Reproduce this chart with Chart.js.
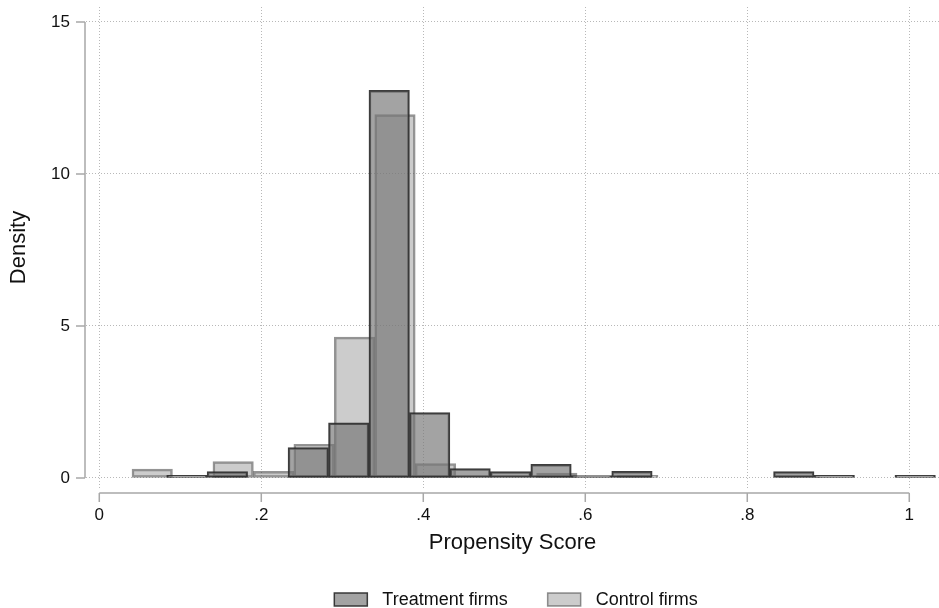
<!DOCTYPE html>
<html>
<head>
<meta charset="utf-8">
<script src="https://cdn.jsdelivr.net/npm/chart.js@4/dist/chart.umd.min.js"></script>
<style>
    html, body { margin: 0; padding: 0; background: #fff; }
    #wrap { width: 939px; height: 608px; }
</style>
</head>
<body>
<div id="wrap"><canvas id="psChart" width="939" height="608"></canvas></div>
<script>
// Histogram bins (Stata-style density histograms, equal bin width)
const binWidth = 0.04995;
const treatmentStart = 0.0832;
const controlStart = 0.0404;

// density per bin, null = empty bin
const treatmentDensity = [0.09, 0.21, null, 1.00, 1.81, 12.75, 2.15, 0.31, 0.21, 0.45, 0.08, 0.22, null, null, null, 0.21, 0.09, null, 0.09];
const controlDensity = [0.29, null, 0.54, 0.22, 1.11, 4.63, 11.95, 0.47, null, null, 0.16, null, 0.09, null, null, null, 0.04];

const seriesLabels = ['Treatment firms', 'Control firms'];

const xTicks = [0, 0.2, 0.4, 0.6, 0.8, 1];
const xTickLabels = ['0', '.2', '.4', '.6', '.8', '1'];
const yTicks = [0, 5, 10, 15];
const yTickLabels = ['0', '5', '10', '15'];

const FONT = "'Liberation Sans', Arial, sans-serif";

function toBins(start, values) {
    return values.map((v, i) => ({ x: start + (i + 0.5) * binWidth, y: v }));
}

const treatFill = 'rgba(118, 118, 118, 0.67)';
const treatLine = 'rgba(45, 45, 45, 0.92)';
const ctrlFill = 'rgba(118, 118, 118, 0.374)';
const ctrlLine = 'rgba(60, 60, 60, 0.55)';

// axis lines drawn only over the tick range, plus the legend under the plot
const stataDecor = {
    id: 'stataDecor',
    afterDraw(chart) {
        const { ctx, chartArea } = chart;
        const xs = chart.scales.x;
        const ys = chart.scales.y;
        ctx.save();
        ctx.strokeStyle = '#a8a8a8';
        ctx.lineWidth = 1.5;

        const axX = chartArea.left - 1;
        ctx.beginPath();
        ctx.moveTo(axX, ys.getPixelForValue(yTicks[yTicks.length - 1]));
        ctx.lineTo(axX, ys.getPixelForValue(yTicks[0]));
        yTicks.forEach(v => {
            const p = ys.getPixelForValue(v);
            ctx.moveTo(axX - 9, p);
            ctx.lineTo(axX, p);
        });
        ctx.stroke();

        const axY = chartArea.bottom + 5;
        ctx.beginPath();
        ctx.moveTo(xs.getPixelForValue(xTicks[0]), axY);
        ctx.lineTo(xs.getPixelForValue(xTicks[xTicks.length - 1]), axY);
        xTicks.forEach(v => {
            const p = xs.getPixelForValue(v);
            ctx.moveTo(p, axY);
            ctx.lineTo(p, axY + 9);
        });
        ctx.stroke();

        // legend
        ctx.font = '18px ' + FONT;
        ctx.textBaseline = 'middle';
        ctx.textAlign = 'left';
        const boxW = 33, boxH = 13, gapText = 15, gapItem = 40;
        const widths = seriesLabels.map(t => ctx.measureText(t).width);
        const total = 2 * (boxW + gapText) + widths[0] + widths[1] + gapItem;
        const center = 516;
        let lx = center - total / 2;
        const boxTop = 593;
        const styles = [[treatFill, treatLine], [ctrlFill, ctrlLine]];
        seriesLabels.forEach((label, i) => {
            ctx.fillStyle = styles[i][0];
            ctx.fillRect(lx, boxTop, boxW, boxH);
            ctx.strokeStyle = styles[i][1];
            ctx.lineWidth = 1.5;
            ctx.strokeRect(lx, boxTop, boxW, boxH);
            ctx.fillStyle = '#111';
            ctx.fillText(label, lx + boxW + gapText, boxTop + boxH / 2 + 0.5);
            lx += boxW + gapText + widths[i] + gapItem;
        });
        ctx.restore();
    }
};

const xMin = -0.0164, xMax = 1.0367;

const gridStyle = { drawTicks: false, color: '#b8b8b8', lineWidth: 1, offset: false };
const dotted = { display: false, dash: [1, 2] };

new Chart(document.getElementById('psChart'), {
    type: 'bar',
    data: {
        datasets: [
            {
                label: seriesLabels[0],
                data: toBins(treatmentStart, treatmentDensity),
                xAxisID: 'x',
                grouped: false,
                backgroundColor: treatFill,
                borderColor: treatLine,
                borderWidth: 1.8,
                borderSkipped: false,
                categoryPercentage: 1,
                barPercentage: 1
            },
            {
                label: seriesLabels[1],
                data: toBins(controlStart, controlDensity),
                xAxisID: 'x2',
                grouped: false,
                backgroundColor: ctrlFill,
                borderColor: ctrlLine,
                borderWidth: 1.8,
                borderSkipped: false,
                categoryPercentage: 1,
                barPercentage: 1
            }
        ]
    },
    options: {
        responsive: false,
        animation: false,
        devicePixelRatio: 1,
        layout: { padding: { top: 7, right: 0, bottom: 28, left: 0 } },
        plugins: {
            legend: { display: false },
            tooltip: { enabled: false }
        },
        scales: {
            x: {
                type: 'linear',
                min: xMin,
                max: xMax,
                offset: false,
                afterBuildTicks: s => { s.ticks = xTicks.map(v => ({ value: v })); },
                afterFit: s => { s.height = 92; s.paddingLeft = 0; s.paddingRight = 0; },
                border: dotted,
                grid: gridStyle,
                ticks: {
                    padding: 17,
                    color: '#111',
                    font: { family: FONT, size: 17 },
                    maxRotation: 0,
                    callback: v => xTickLabels[xTicks.indexOf(v)]
                },
                title: {
                    display: true,
                    text: 'Propensity Score',
                    color: '#111',
                    font: { family: FONT, size: 22 },
                    padding: { top: 0, bottom: 24 }
                }
            },
            x2: {
                type: 'linear',
                display: false,
                min: xMin,
                max: xMax,
                offset: false,
                grid: { display: false, offset: false }
            },
            y: {
                min: -0.33,
                max: 15.49,
                afterBuildTicks: s => { s.ticks = yTicks.map(v => ({ value: v })); },
                afterFit: s => { s.width = 86; s.paddingTop = 0; s.paddingBottom = 0; },
                border: dotted,
                grid: gridStyle,
                ticks: {
                    padding: 16,
                    color: '#111',
                    font: { family: FONT, size: 17 },
                    callback: v => yTickLabels[yTicks.indexOf(v)]
                },
                title: {
                    display: true,
                    text: 'Density',
                    color: '#111',
                    font: { family: FONT, size: 22 },
                    padding: { top: 6, bottom: 0 }
                }
            }
        }
    },
    plugins: [stataDecor]
});
</script>
</body>
</html>
